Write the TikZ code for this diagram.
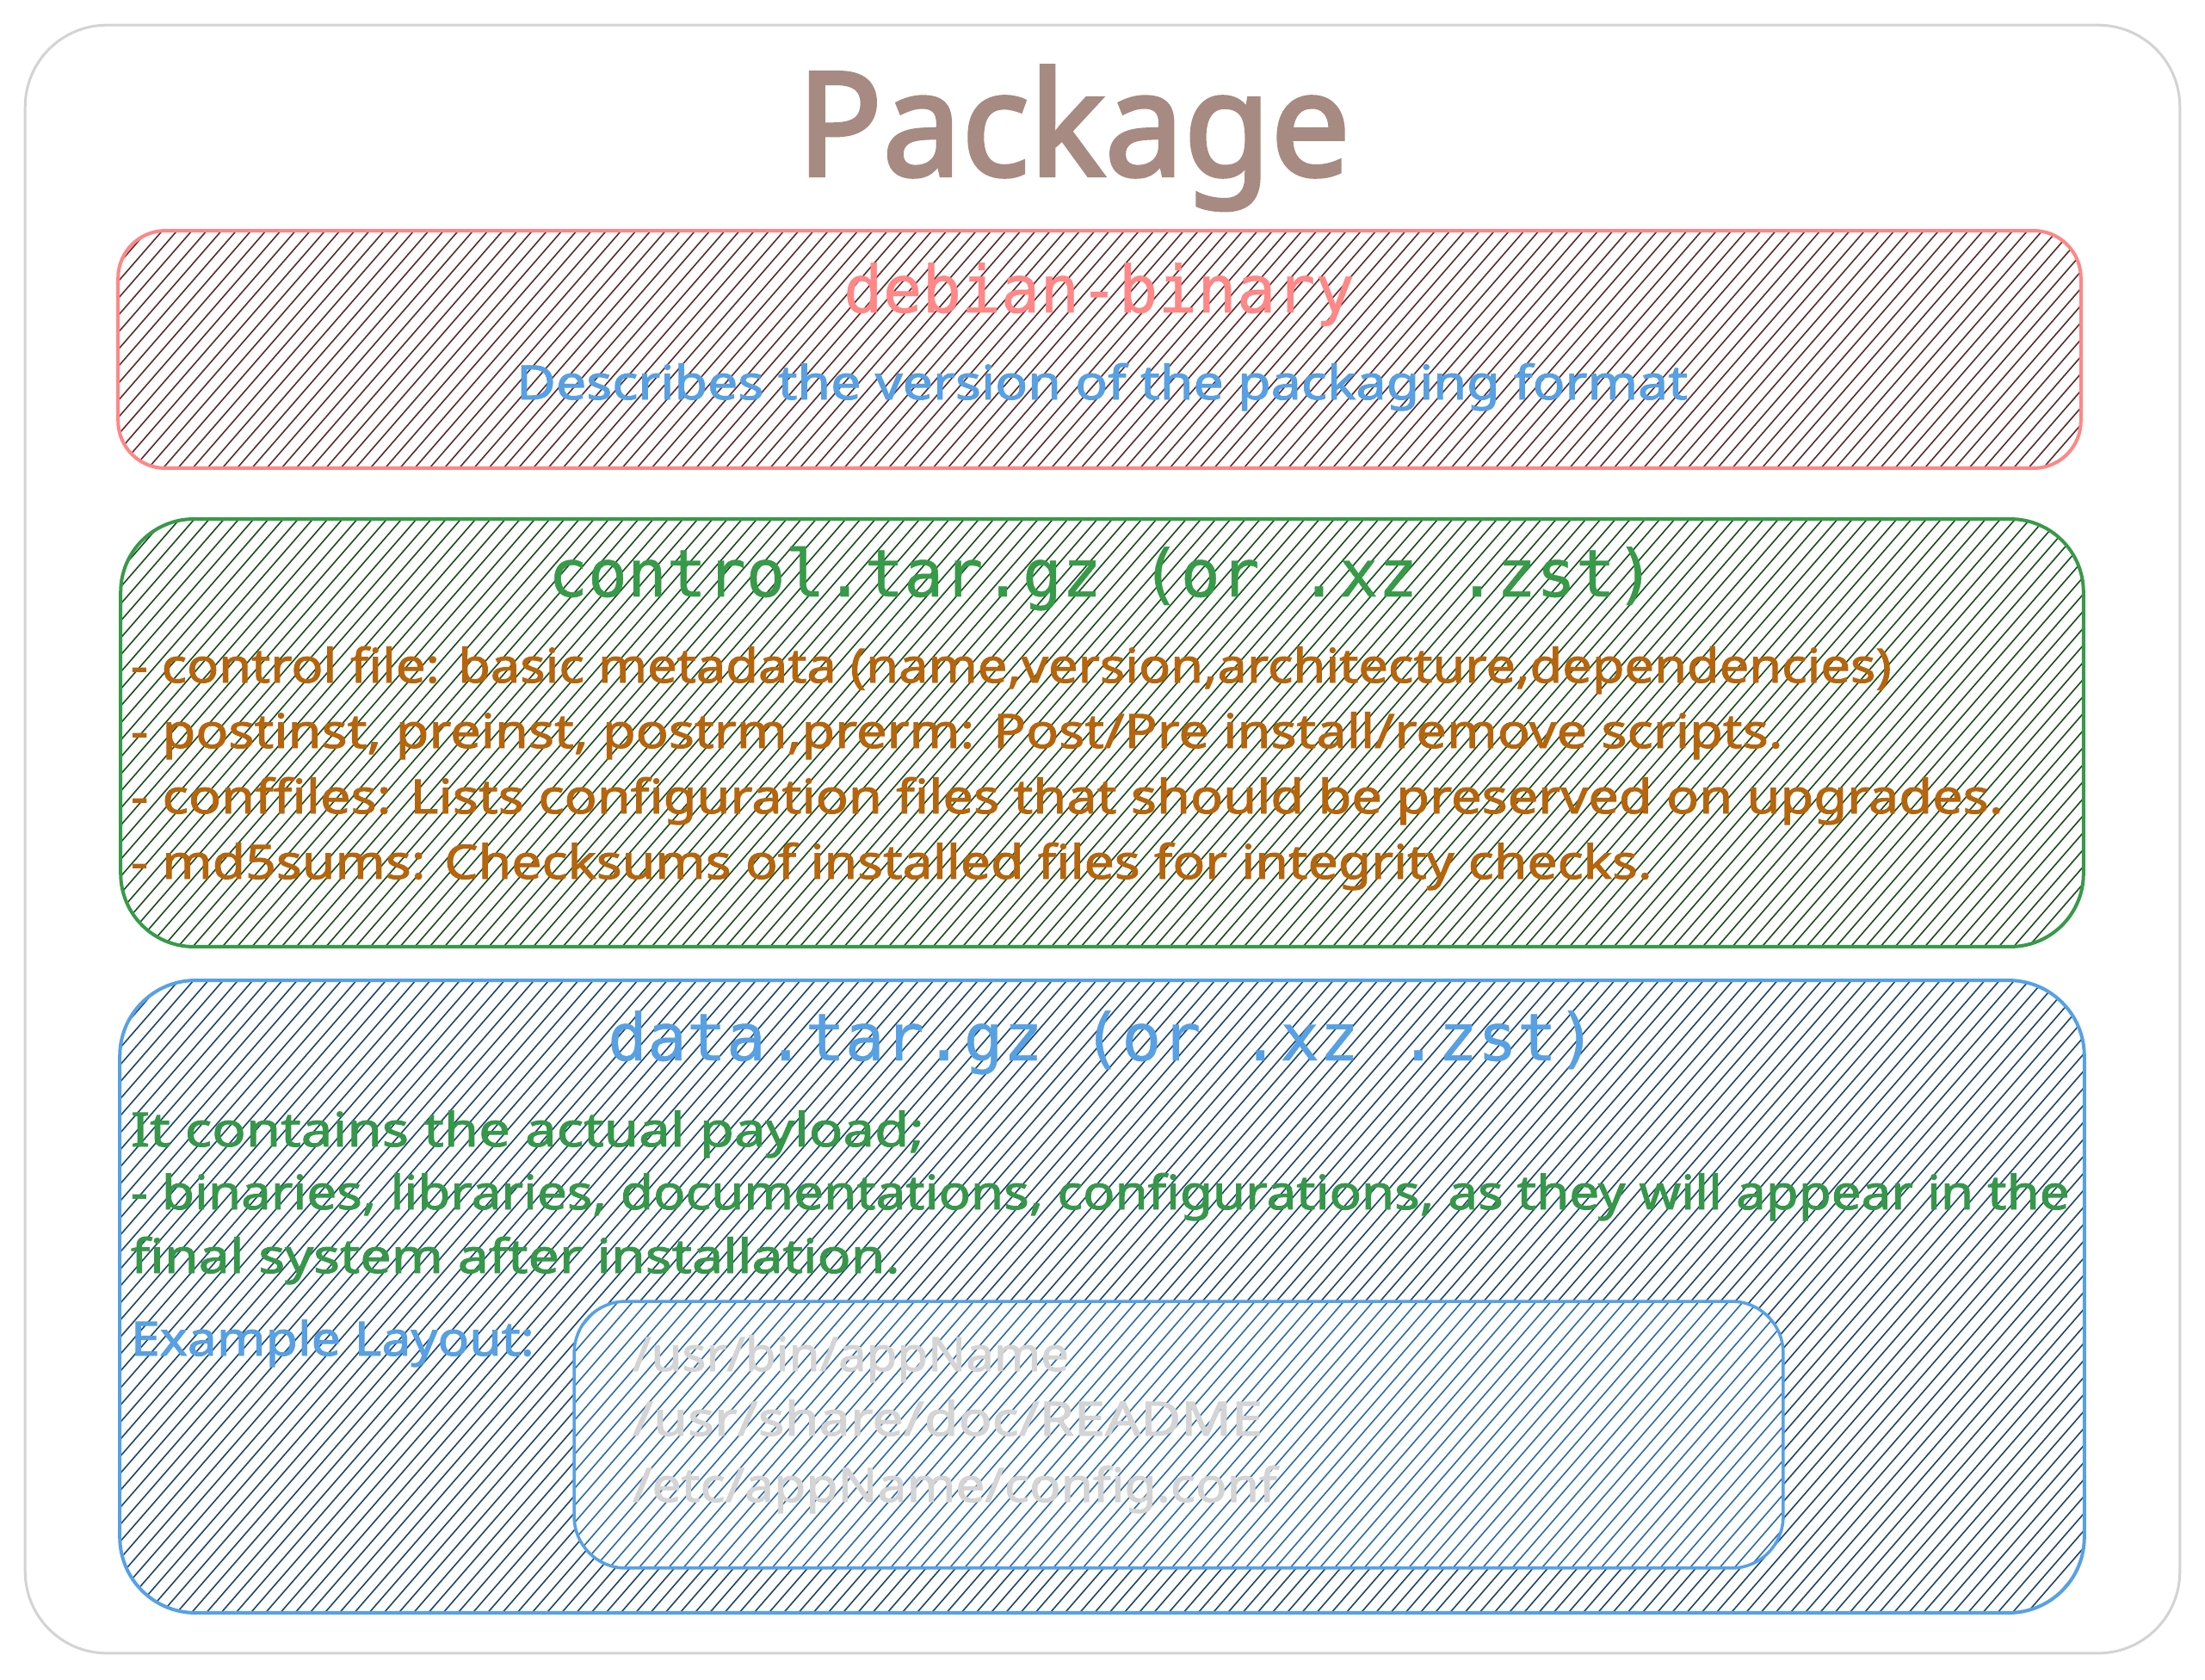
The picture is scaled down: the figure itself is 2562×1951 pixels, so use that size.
\documentclass[tikz,border=0pt]{standalone}
\usepackage{fontspec}
\usepackage{graphicx}
\newfontfamily\handfont{Noto Sans}[FakeBold=1.6]
\newfontfamily\titlefont{Noto Sans}[FakeBold=2.5]
\newfontfamily\codefont{DejaVu Sans Mono}[FakeBold=0.6]
\newlength\px
\setlength\px{0.569055pt}
\definecolor{outerGray}{HTML}{D3D3D3}
\definecolor{redStroke}{HTML}{FF8787}
\definecolor{redHatch}{HTML}{5B2C2C}
\definecolor{greenStroke}{HTML}{379A48}
\definecolor{greenHatch}{HTML}{1A4D1F}
\definecolor{blueStroke}{HTML}{56A1E6}
\definecolor{blueHatch}{HTML}{1E4668}
\definecolor{innerHatch}{HTML}{2C6CAA}
\definecolor{textBlue}{HTML}{57A0E3}
\definecolor{textOrange}{HTML}{B5650D}
\definecolor{textGreen}{HTML}{36974A}
\definecolor{pathGray}{HTML}{D4D4D4}
\definecolor{titleColor}{HTML}{A78A81}
\begin{document}
\begin{tikzpicture}[x=0.02cm, y=-0.02cm,
  boxshape/.style={draw, rectangle, rounded corners=#1, line width=4\px, inner sep=0pt, outer sep=0pt},
  hand/.style={font=\handfont\fontsize{31.3}{39}\selectfont, inner sep=0pt, outer sep=0pt},
  code/.style={font=\codefont\fontsize{43.2}{52}\selectfont, inner sep=0pt, outer sep=0pt},
  hatchline/.style={line width=1.6\px, line cap=round}]
\useasboundingbox (0,0) rectangle (2562,1951);
\fill[white] (0,0) rectangle (2562,1951);

% outer frame
\node[boxshape=95\px, draw=outerGray, line width=3\px, minimum width=2504\px, minimum height=1892\px] (outer) at (1281,975) {};

% hatching
\begin{scope}
  \clip[rounded corners=55\px] (137,268) rectangle (2418,544);
  \foreach \x in {-103,-85.8,...,2418} \draw[hatchline, draw=redHatch] (\x,544) -- ++(240,-276);
\end{scope}
\begin{scope}
  \clip[rounded corners=85\px] (140,603) rectangle (2421,1100);
  \foreach \x in {-292,-274.8,...,2421} \draw[hatchline, draw=greenHatch] (\x,1100) -- ++(432,-497);
\end{scope}
\begin{scope}
  \clip[rounded corners=88\px] (139,1139) rectangle (2422,1874);
  \foreach \x in {-500,-482.8,...,2422} \draw[hatchline, draw=blueHatch] (\x,1874) -- ++(639,-735);
\end{scope}
\fill[white, rounded corners=60\px] (667,1512) rectangle (2072,1822);
\begin{scope}
  \clip[rounded corners=60\px] (667,1512) rectangle (2072,1822);
  \foreach \x in {398,415.2,...,2072} \draw[hatchline, draw=innerHatch] (\x,1822) -- ++(269,-310);
\end{scope}

% boxes
\node[boxshape=55\px, draw=redStroke, minimum width=2281\px, minimum height=276\px] (debbox) at (1277.5,406) {};
\node[boxshape=85\px, draw=greenStroke, minimum width=2281\px, minimum height=497\px] (ctrlbox) at (1280.5,851.5) {};
\node[boxshape=88\px, draw=blueStroke, minimum width=2283\px, minimum height=735\px] (databox) at (1280.5,1506.5) {};
\node[boxshape=60\px, draw=blueStroke, line width=3.5\px, minimum width=1405\px, minimum height=310\px] (layoutbox) at (1369.5,1667) {};

% title
\node[font=\titlefont\fontsize{95.6}{110}\selectfont, text=titleColor, anchor=base, inner sep=0pt] (title) at (1247.5,204) {\resizebox{643\px}{\height}{Package}};

% debian-binary
\node[code, text=redStroke, anchor=base] (debtitle) at (1277,363) {\resizebox{594\px}{\height}{debian-binary}};
\node[hand, text=textBlue, anchor=base] (debdesc) at (1280.5,464) {\resizebox{1361\px}{\height}{Describes the version of the packaging format}};

% control
\node[code, text=greenStroke, anchor=base] (ctrltitle) at (1280,693) {\resizebox{1286\px}{\height}{control.tar.gz (or .xz .zst)}};
\node[hand, text=textOrange, anchor=base west] (c1) at (152,793) {\resizebox{2046\px}{\height}{- control file: basic metadata (name,version,architecture,dependencies)}};
\node[hand, text=textOrange, anchor=base west] (c2) at (152,869) {\resizebox{1920\px}{\height}{- postinst, preinst, postrm,prerm: Post/Pre install/remove scripts.}};
\node[hand, text=textOrange, anchor=base west] (c3) at (152,945) {\resizebox{2176\px}{\height}{- conffiles: Lists configuration files that should be preserved on upgrades.}};
\node[hand, text=textOrange, anchor=base west] (c4) at (152,1021) {\resizebox{1768\px}{\height}{- md5sums: Checksums of installed files for integrity checks.}};

% data
\node[code, text=textBlue, anchor=base] (datatitle) at (1280.5,1232) {\resizebox{1149\px}{\height}{data.tar.gz (or .xz .zst)}};
\node[hand, text=textGreen, anchor=base west] (d1) at (152,1332) {\resizebox{922\px}{\height}{It contains the actual payload;}};
\node[hand, text=textGreen, anchor=base west] (d2) at (152,1405) {\resizebox{2253\px}{\height}{- binaries, libraries, documentations, configurations, as they will appear in the}};
\node[hand, text=textGreen, anchor=base west] (d3) at (152,1479) {\resizebox{894\px}{\height}{final system after installation.}};
\node[hand, text=textBlue, anchor=base west] (example) at (152,1575) {\resizebox{469\px}{\height}{Example Layout:}};

% layout paths
\node[hand, text=pathGray, anchor=base west] (p1) at (735,1593) {\resizebox{507\px}{\height}{/usr/bin/appName}};
\node[hand, text=pathGray, anchor=base west] (p2) at (735,1668) {\resizebox{732\px}{\height}{/usr/share/doc/README}};
\node[hand, text=pathGray, anchor=base west] (p3) at (735,1745) {\resizebox{749\px}{\height}{/etc/appName/config.conf}};
\end{tikzpicture}
\end{document}
